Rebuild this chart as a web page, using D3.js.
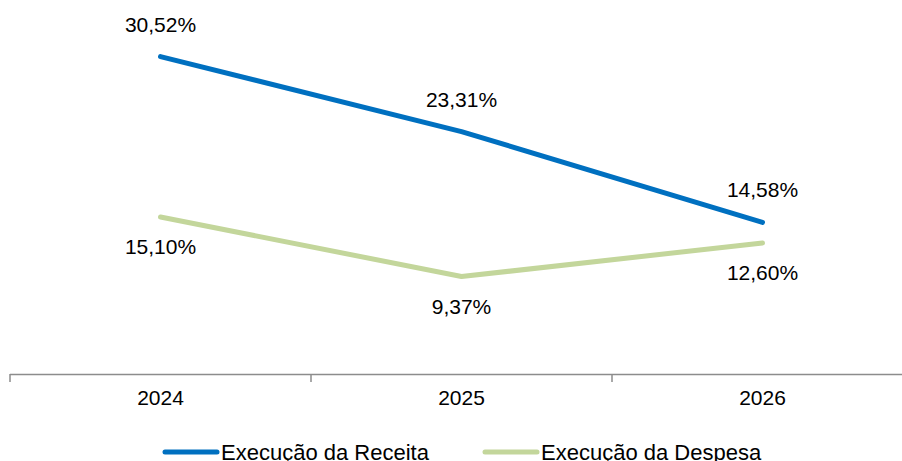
<!DOCTYPE html>
<html>
<head>
<meta charset="utf-8">
<script src="https://cdn.jsdelivr.net/npm/d3@7"></script>
<style>
  body { margin: 0; background: #fff; }
  #graf { width: 902px; height: 461px; overflow: hidden; }
  text { font-family: Arial, "Liberation Sans", sans-serif; }
</style>
</head>
<body>
<div id="graf"></div>
<script>
// -- Datos
anos = ['2024', '2025', '2026']
receita = [30.52, 23.31, 14.58]
despesa = [15.10, 9.37, 12.60]
series = [
  { nome: 'Execução da Receita', valores: receita, cor: '#0070c0' },
  { nome: 'Execução da Despesa', valores: despesa, cor: '#c3d69b' }
]
// posição do rótulo por ponto (acima/abaixo) como no original
posRotulo = [['acima', 'acima', 'acima'], ['abaixo', 'abaixo', 'abaixo']]

ancho_total = 902
alto_total = 461

svg = d3.select('#graf').append('svg')
        .attr('width', ancho_total)
        .attr('height', alto_total)

// -- Escaladores
x = d3.scaleBand().domain(anos).range([10, 913])
y = d3.scaleLinear().domain([0, 35]).range([374, 10])

// -- Eixo X
xAxis = d3.axisBottom(x).tickSize(0).tickPadding(16)
gx = svg.append('g')
        .attr('transform', `translate(0, ${y(0)})`)
        .call(xAxis)
gx.select('.domain').remove()
gx.selectAll('text')
    .attr('font-size', '21px')
    .attr('fill', '#000')

svg.append('line')
    .attr('x1', 10).attr('x2', 913)
    .attr('y1', y(0) + 0.5).attr('y2', y(0) + 0.5)
    .attr('stroke', '#8c8c8c')
    .attr('stroke-width', 1.5)

svg.selectAll('.tick-sep')
    .data(anos.concat(['fim']))
    .enter()
    .append('line')
    .attr('x1', (d, i) => 10 + i * x.step())
    .attr('x2', (d, i) => 10 + i * x.step())
    .attr('y1', y(0))
    .attr('y2', y(0) + 8)
    .attr('stroke', '#8c8c8c')
    .attr('stroke-width', 1.5)

// -- Linhas
linha = d3.line()
          .x((d, i) => x(anos[i]) + x.bandwidth() / 2)
          .y(d => y(d))

series.forEach((s, k) => {
  svg.append('path')
      .datum(s.valores)
      .attr('d', linha)
      .attr('fill', 'none')
      .attr('stroke', s.cor)
      .attr('stroke-width', 5)
      .attr('stroke-linecap', 'round')
      .attr('stroke-linejoin', 'round')

  svg.selectAll(`.rot${k}`)
      .data(s.valores)
      .enter()
      .append('text')
      .attr('x', (d, i) => x(anos[i]) + x.bandwidth() / 2)
      .attr('y', (d, i) => y(d) + (posRotulo[k][i] == 'acima' ? -25 : 37))
      .attr('text-anchor', 'middle')
      .attr('font-size', '21px')
      .attr('fill', '#000')
      .text(d => d3.format('.2f')(d).replace('.', ',') + '%')
})

// -- Legenda
legX = [165, 485]
leg = svg.selectAll('.leg')
          .data(series)
          .enter()
          .append('g')
          .attr('transform', (d, i) => `translate(${legX[i]}, 452)`)
leg.append('line')
    .attr('x1', 0).attr('x2', 52)
    .attr('y1', 0).attr('y2', 0)
    .attr('stroke', d => d.cor)
    .attr('stroke-width', 5)
    .attr('stroke-linecap', 'round')
leg.append('text')
    .attr('x', 56)
    .attr('y', 8)
    .attr('font-size', '22px')
    .attr('fill', '#000')
    .text(d => d.nome)
</script>
</body>
</html>
